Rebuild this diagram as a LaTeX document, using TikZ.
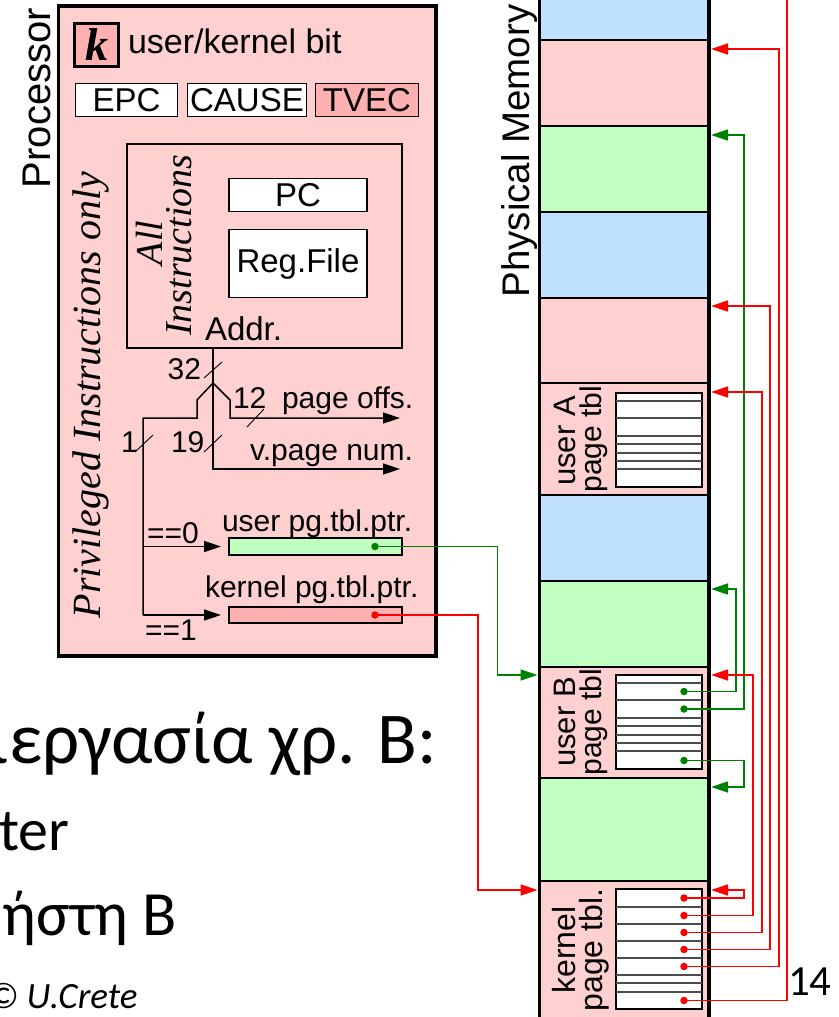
\documentclass[tikz,border=0pt]{standalone}
\usepackage{fontspec}
\setmainfont{Liberation Sans}
\newfontfamily\slidefont{Carlito}
\newfontfamily\seriffont{Liberation Serif}
\usetikzlibrary{arrows.meta,calc}
\definecolor{pinkL}{HTML}{FFD0D0}
\definecolor{pinkD}{HTML}{FFB0B0}
\definecolor{greenL}{HTML}{C0FFC0}
\definecolor{blueL}{HTML}{C0E0FF}
\definecolor{lineG}{HTML}{008000}
\definecolor{lineR}{HTML}{FF0000}
\newcommand\myfs[1]{\fontsize{#1}{#1}\selectfont}
\begin{document}
\begin{tikzpicture}[x=1pt,y=-1pt,
  box/.style={draw, inner sep=0, outer sep=0},
  reg/.style={box, fill=white, line width=1.5pt, font=\myfs{33}},
  lbl/.style={inner sep=0, outer sep=0},
  rlbl/.style={lbl, rotate=90, anchor=base},
  memrow/.style={box, line width=2pt, minimum width=169.5},
  withtip/.style={-{Triangle[length=17pt,width=11pt]}},
  wireK/.style={draw=black, line width=1.5pt},
  wireG/.style={draw=lineG, line width=1.5pt},
  wireR/.style={draw=lineR, line width=1.5pt},
  tick/.style={line width=0.9pt},
  dotG/.style={circle, fill=lineG, minimum size=7.5pt, inner sep=0},
  dotR/.style={circle, fill=lineR, minimum size=7.5pt, inner sep=0},
  small/.style={lbl, font=\myfs{30}},
  slide/.style={lbl, anchor=base west, font=\slidefont\myfs{58}}
]
\useasboundingbox (0,0) rectangle (838,1017);
\clip (0,0) rectangle (838,1017);

% ---------------- Processor ----------------
\node[box, fill=pinkL, line width=3.5pt, minimum width=377.5, minimum height=650] (proc) at (247.25,331) {};
\node[rlbl, font=\myfs{40}] (proclbl) at (50,98) {Processor};
\node[box, fill=pinkD, line width=3pt, minimum width=44, minimum height=43,
      font=\seriffont\bfseries\itshape\myfs{46}] (kbit) at (96.5,45) {k};
\node[lbl, anchor=base west, font=\myfs{34}] (kbitlbl) at (128,53) {user/kernel bit};
\node[reg, minimum width=102, minimum height=33] (epc) at (126.5,100) {EPC};
\node[reg, minimum width=119, minimum height=33] (cause) at (247,100) {CAUSE};
\node[reg, fill=pinkD, minimum width=103, minimum height=33] (tvec) at (367,100) {TVEC};

\node[rlbl, font=\seriffont\itshape\myfs{40}] (priv) at (100,395) {Privileged Instructions only};

\node[box, line width=1.5pt, minimum width=275, minimum height=204] (inner) at (264.5,246) {};
\node[rlbl, font=\seriffont\itshape\myfs{38}] (allA) at (162,243) {All};
\node[rlbl, font=\seriffont\itshape\myfs{38}] (allB) at (191,245) {Instructions};
\node[reg, minimum width=138, minimum height=33] (pc) at (298,195) {PC};
\node[reg, minimum width=138, minimum height=68] (rf) at (298,263.5) {Reg.File};
\node[lbl, anchor=base west, font=\myfs{33}] (addr) at (205,340) {Addr.};

\node[box, fill=greenL, line width=1.5pt, minimum width=173, minimum height=17] (uptr) at (315.5,546.5) {};
\node[box, fill=pinkD, line width=1.5pt, minimum width=173, minimum height=16] (kptr) at (315.5,615) {};
\node[small, anchor=base west] (uptrlbl) at (222,531) {user pg.tbl.ptr.};
\node[small, anchor=base west] (kptrlbl) at (205,597) {kernel pg.tbl.ptr.};
\node[dotG] (ud) at (375,546.5) {};
\node[dotR] (kd) at (375,615) {};

% address wires
\coordinate (sp) at (213,383);
\coordinate (po) at (400,418);
\coordinate (vp) at (400,469);
\coordinate (b2) at (143,615);
\draw[wireK] (sp |- inner.south) -- (sp);
\draw[wireK, withtip] (sp) -- ++(17,17) |- (po);
\draw[wireK, withtip] (sp) |- (vp);
\draw[wireK] (sp) -- ++(-16,17) -- ++(0,18) -| (b2);
\draw[wireK, withtip] (b2) -- ($(kptr.west)+(-8,0)$);
\draw[wireK, withtip] (uptr.west -| b2) -- ($(uptr.west)+(-8,0)$);

\draw[tick] (204,378) -- (222,362);
\draw[tick] (247,427) -- (264,409);
\draw[tick] (135,452) -- (153,435);
\draw[tick] (204,452) -- (222,435);
\node[small, anchor=base east] (n32) at (201,379) {32};
\node[small, anchor=base west] (n12) at (233,408) {12};
\node[small, anchor=base west] (pofs) at (282,408) {page offs.};
\node[small, anchor=base west] (n1) at (121,452) {1};
\node[small, anchor=base west] (n19) at (171,452) {19};
\node[small, anchor=base east] (vpn) at (413,460) {v.page num.};
\node[small, anchor=base west] (eq0) at (147,543) {==0};
\node[small, anchor=base west] (eq1) at (145,640) {==1};

% ---------------- Physical memory ----------------
\node[rlbl, font=\myfs{38.5}] (pmlbl) at (529,151) {Physical Memory};
\foreach \n/\cy/\h/\c in {m0/10/60/blueL, m1/83/86/pinkL, m2/169/86/greenL,
    m3/255/86/blueL, m4/340.5/85/pinkL, mA/439/112/pinkL, m6/538/86/blueL,
    m7/624/86/greenL, mB/722.5/111/pinkL, m9/829.5/103/greenL, mK/960.5/159/pinkL}
  \node[memrow, fill=\c, minimum height=\h] (\n) at (624.25,\cy) {};
\draw[line width=3.5pt] (m0.north west) -- (mK.south west);
\draw[line width=3.5pt] (m0.north east) -- (mK.south east);

% page tables
\node[box, fill=white, line width=1.5pt, minimum width=86, minimum height=94] (ptA) at (659,440) {};
\node[box, fill=white, line width=1.5pt, minimum width=86, minimum height=94] (ptB) at (659,722) {};
\node[box, fill=white, line width=1.5pt, minimum width=86, minimum height=120] (ptK) at (659,949) {};
\foreach \o in {8,25,43,51,60,68,76} {
  \draw[black!70, line width=1.1pt] (ptA.north west) ++(0,\o) -- ++(86,0);
  \draw[black!70, line width=1.1pt] (ptB.north west) ++(0,\o) -- ++(86,0);
}
\foreach \o in {18,35,52,69,86,94,103}
  \draw[black!70, line width=1.1pt] (ptK.north west) ++(0,\o) -- ++(86,0);

\node[rlbl, font=\myfs{31}] (lA1) at (575,441) {user A};
\node[rlbl, font=\myfs{30}] (lA2) at (601,439) {page tbl};
\node[rlbl, font=\myfs{31}] (lB1) at (575,722) {user B};
\node[rlbl, font=\myfs{30}] (lB2) at (601,722) {page tbl};
\node[rlbl, font=\myfs{32}] (lK1) at (575,950) {kernel};
\node[rlbl, font=\myfs{32}] (lK2) at (602,950) {page tbl.};

% entries
\node[dotG] (bd1) at (684,691.5) {};
\node[dotG] (bd2) at (684,709) {};
\node[dotG] (bd3) at (684,760.5) {};
\node[dotR] (kd1) at (684,898) {};
\node[dotR] (kd2) at (684,915.5) {};
\node[dotR] (kd3) at (684,932.5) {};
\node[dotR] (kd4) at (684,949.5) {};
\node[dotR] (kd5) at (684,966.5) {};
\node[dotR] (kd6) at (684,1000.5) {};

% arrow targets on memory edges
\coordinate (r1) at ($(m1.north east)+(2,9)$);
\coordinate (r2) at ($(m2.north east)+(2,9)$);
\coordinate (r4) at ($(m4.north east)+(2,8)$);
\coordinate (rA) at ($(mA.north east)+(2,9)$);
\coordinate (r7) at ($(m7.north east)+(2,8)$);
\coordinate (rB) at ($(mB.north east)+(2,8)$);
\coordinate (r9) at ($(m9.north east)+(2,9)$);
\coordinate (rK) at ($(mK.north east)+(2,9)$);
\coordinate (lB) at ($(mB.north west)+(-2,8)$);
\coordinate (lK) at ($(mK.north west)+(-2,9)$);
\coordinate (topend) at (787,-5);

\draw[wireG, withtip] (ud.center) -| ($(lB)+(-40,0)$) -- (lB);
\draw[wireR, withtip] (kd.center) -| ($(lK)+(-59.5,0)$) -- (lK);

\draw[wireG, withtip] (bd1.center) -| ($(r7)+(25,0)$) -- (r7);
\draw[wireG, withtip] (bd2.center) -| ($(r2)+(33,0)$) -- (r2);
\draw[wireG, withtip] (bd3.center) -| ($(r9)+(33,0)$) -- (r9);

\draw[wireR, withtip] (kd1.center) -| ($(rK)+(33,0)$) -- (rK);
\draw[wireR, withtip] (kd2.center) -| ($(rB)+(42,0)$) -- (rB);
\draw[wireR, withtip] (kd3.center) -| ($(rA)+(51,0)$) -- (rA);
\draw[wireR, withtip] (kd4.center) -| ($(r4)+(59,0)$) -- (r4);
\draw[wireR, withtip] (kd5.center) -| ($(r1)+(68,0)$) -- (r1);
\draw[wireR] (kd6.center) -| (topend);

% ---------------- slide text ----------------
\node[slide, font=\slidefont\myfs{73}] (t1) at (-11,763) {ιεργασία χρ. B:};
\node[slide, font=\slidefont\myfs{60}] (t2) at (-1,850) {ter};
\node[slide, font=\slidefont\myfs{63}] (t3) at (2.5,935) {ήστη B};
\node[lbl, anchor=base west, font=\slidefont\itshape\myfs{37}] (copy) at (-12.5,1008) {© U.Crete};
\node[lbl, anchor=base west, font=\slidefont\myfs{43}] (pnum) at (788,995) {14};
\end{tikzpicture}
\end{document}
